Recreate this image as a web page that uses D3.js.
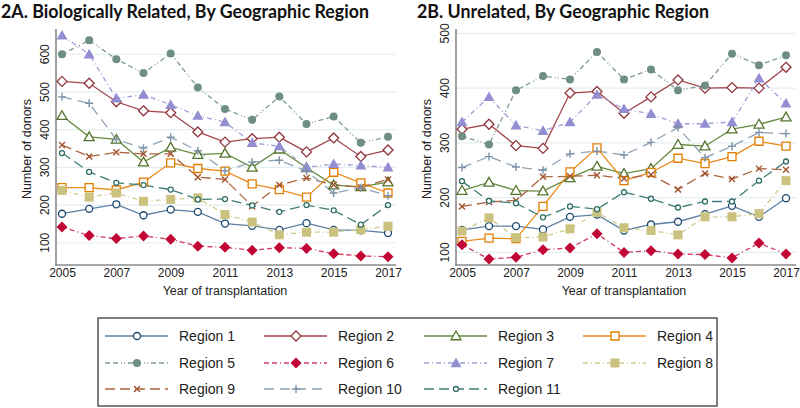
<!DOCTYPE html>
<html><head><meta charset="utf-8">
<script src="https://cdn.jsdelivr.net/npm/d3@7"></script>
<style>body{margin:0;background:#fff}svg{display:block}</style>
</head><body>
<svg id="c" width="800" height="408"></svg>
<script>
const years = [2005,2006,2007,2008,2009,2010,2011,2012,2013,2014,2015,2016,2017];
const xTickYears = [2005,2007,2009,2011,2013,2015,2017];
const yTicksRelated = [100,200,300,400,500,600];
const yTicksUnrelated = [100,200,300,400,500];
const regionNames = ["Region 1","Region 2","Region 3","Region 4","Region 5","Region 6","Region 7","Region 8","Region 9","Region 10","Region 11"];

// 2A. Biologically related donors
const related1  = [177,190,202,173,188,182,151,145,134,152,134,133,126];
const related2  = [528,523,474,450,445,394,367,376,380,341,378,329,346];
const related3  = [437,381,374,314,353,334,337,300,348,299,253,248,261];
const related4  = [246,246,240,261,312,297,290,256,241,221,287,259,232];
const related5  = [600,637,587,550,602,512,455,426,488,415,435,365,381];
const related6  = [142,119,111,118,109,91,88,80,87,85,71,65,63];
const related7  = [650,600,483,493,466,437,420,365,356,300,309,305,300];
const related8  = [239,221,232,210,215,219,175,155,121,128,128,135,144];
const related9  = [359,329,340,336,336,274,268,197,253,272,254,247,268];
const related10 = [487,470,374,351,380,344,291,314,319,290,232,246,225];
const related11 = [338,288,259,253,241,215,216,199,182,200,186,148,200];

// 2B. Unrelated donors
const unrelated1  = [141,148,148,142,165,169,140,151,156,170,185,165,199];
const unrelated2  = [325,334,295,290,391,394,354,384,415,400,401,400,438];
const unrelated3  = [213,228,213,212,236,257,244,253,297,294,325,334,347];
const unrelated4  = [120,126,125,184,247,291,231,246,272,262,275,303,294];
const unrelated5  = [312,297,396,422,416,466,416,434,396,405,463,442,460];
const unrelated6  = [114,88,91,105,108,134,100,103,97,96,90,117,97];
const unrelated7  = [338,384,332,322,338,388,362,353,335,335,338,418,372];
const unrelated8  = [139,163,127,128,143,173,145,140,132,165,165,171,231];
const unrelated9  = [184,192,195,238,239,241,235,242,215,244,234,253,251];
const unrelated10 = [255,275,256,250,280,285,278,301,328,273,294,319,317];
const unrelated11 = [230,194,190,164,184,179,210,198,182,193,193,231,266];

const relatedSeries = [related1,related2,related3,related4,related5,related6,related7,related8,related9,related10,related11];
const unrelatedSeries = [unrelated1,unrelated2,unrelated3,unrelated4,unrelated5,unrelated6,unrelated7,unrelated8,unrelated9,unrelated10,unrelated11];

// styles (Stata s2color palette)
const styles = [
  {mk:"#1a476f", ln:"#5b7fa3", dash:null,               shape:"circle",   fill:false, s:3.5},
  {mk:"#90353b", ln:"#a2454c", dash:null,               shape:"diamond",  fill:false, s:5},
  {mk:"#55752f", ln:"#668a3e", dash:null,               shape:"triangle", fill:false, s:5},
  {mk:"#e37e00", ln:"#ea8a1a", dash:null,               shape:"square",   fill:false, s:4},
  {mk:"#6e8e84", ln:"#7e9c92", dash:"5,3,5,3,1,2,1,3",  shape:"circle",   fill:true,  s:4},
  {mk:"#c10534", ln:"#d33a5e", dash:"5,3,5,3,1,3",      shape:"diamond",  fill:true,  s:5.5},
  {mk:"#938dd2", ln:"#a29dd8", dash:"5,3,1,3",          shape:"triangle", fill:true,  s:5.5},
  {mk:"#cac27e", ln:"#d2cb90", dash:"5,3,1,3",          shape:"square",   fill:true,  s:4.5},
  {mk:"#a0522d", ln:"#ad6440", dash:"10,5",             shape:"x",        fill:false, s:3},
  {mk:"#7b92a8", ln:"#8ea2b5", dash:"10,6",             shape:"plus",     fill:false, s:4},
  {mk:"#2d6d66", ln:"#3f7c75", dash:"10,5",             shape:"circle",   fill:false, s:2.5}
];

function markerPath(shape, s){
  switch(shape){
    case "circle": return `M${s},0A${s},${s},0,1,1,${-s},0A${s},${s},0,1,1,${s},0Z`;
    case "diamond": return `M0,${-s}L${s},0L0,${s}L${-s},0Z`;
    case "triangle": return `M0,${-s}L${s*1.0},${s*0.75}L${-s*1.0},${s*0.75}Z`;
    case "square": return `M${-s},${-s}L${s},${-s}L${s},${s}L${-s},${s}Z`;
    case "x": return `M${-s},${-s}L${s},${s}M${-s},${s}L${s},${-s}`;
    case "plus": return `M${-s},0L${s},0M0,${-s}L0,${s}`;
  }
}
function drawMarker(g, st, x, y){
  const stroke = st.shape==="x"||st.shape==="plus";
  g.append("path").attr("d", markerPath(st.shape, st.s))
    .attr("transform", `translate(${x},${y})`)
    .attr("fill", stroke ? "none" : (st.fill ? st.mk : "#fff"))
    .attr("stroke", st.fill ? "none" : st.mk)
    .attr("stroke-width", stroke ? 1.4 : 1.3);
}

const svg = d3.select("#c");
const FONT = "'Liberation Sans', Arial, sans-serif";

function panel(opts){
  const {x0, x1, xs, xe, yTop, yBot, domain, ticks, series, title, titleX, titleLen} = opts;
  const x = d3.scaleLinear().domain([2005,2017]).range([xs, xe]);
  const y = d3.scaleLinear().domain(domain).range([yBot, yTop]);
  const g = svg.append("g");
  g.append("text").attr("x", titleX).attr("y", 18)
    .attr("font-family","Lato, 'Open Sans', sans-serif").attr("font-weight","bold")
    .attr("font-size",18).attr("fill","#111")
    .attr("textLength", titleLen).attr("lengthAdjust","spacingAndGlyphs")
    .text(title);
  g.selectAll(".grid").data(ticks).enter().append("line")
    .attr("x1", x0).attr("x2", x1).attr("y1", d=>y(d)).attr("y2", d=>y(d))
    .attr("stroke","#e3eef0").attr("stroke-width",1.2);
  ticks.forEach(t=>{
    g.append("text").attr("transform",`translate(${x0-7},${y(t)}) rotate(-90)`)
      .attr("text-anchor","middle").attr("font-family",FONT).attr("font-size",12).attr("fill","#222")
      .text(t);
  });
  const xa = g.append("g").attr("transform",`translate(0,${yBot})`)
    .call(d3.axisBottom(x).tickValues(xTickYears).tickSize(0).tickPadding(0).tickFormat(d3.format("d")));
  xa.select(".domain").remove();
  xa.selectAll("text").attr("font-family",FONT).attr("font-size",12).attr("fill","#222").attr("dy","0").attr("y",12);
  g.append("line").attr("x1",x0).attr("x2",x0).attr("y1",yTop).attr("y2",yBot+1).attr("stroke","#8a8a8a").attr("stroke-width",1.6);
  g.append("line").attr("x1",x0).attr("x2",x1).attr("y1",yBot).attr("y2",yBot).attr("stroke","#8a8a8a").attr("stroke-width",1.6);
  g.append("text").attr("x",(x(2005)+x(2017))/2).attr("y",yBot+30).attr("text-anchor","middle")
    .attr("font-family",FONT).attr("font-size",12.5).attr("fill","#222").text("Year of transplantation");
  g.append("text").attr("transform",`translate(${x0-25},${(yTop+yBot)/2+2}) rotate(-90)`)
    .attr("text-anchor","middle").attr("font-family",FONT).attr("font-size",12.5).attr("fill","#222").text("Number of donors");
  const line = d3.line().x((d,i)=>x(years[i])).y(d=>y(d));
  series.forEach((vals,k)=>{
    const st = styles[k];
    g.append("path").attr("d", line(vals)).attr("fill","none")
      .attr("stroke", st.ln).attr("stroke-width",1.3)
      .attr("stroke-dasharray", st.dash);
  });
  series.forEach((vals,k)=>{
    const st = styles[k];
    vals.forEach((v,i)=>drawMarker(g, st, x(years[i]), y(v)));
  });
}

panel({x0:56, x1:396, xs:62, xe:388, yTop:29, yBot:265, domain:[41,667], ticks:yTicksRelated,
  series:relatedSeries, title:"2A. Biologically Related, By Geographic Region", titleX:1, titleLen:368});
panel({x0:456, x1:796, xs:462, xe:786, yTop:29, yBot:265, domain:[77,508], ticks:yTicksUnrelated,
  series:unrelatedSeries, title:"2B. Unrelated, By Geographic Region", titleX:417, titleLen:292});

const lg = svg.append("g");
lg.append("rect").attr("x",98).attr("y",318).attr("width",619).attr("height",88)
  .attr("fill","#fff").attr("stroke","#555").attr("stroke-width",1.5);
const colX = [105,264,424,583];
const rowY = [336,363,389];
regionNames.forEach((name,k)=>{
  const cx = colX[k%4], cy = rowY[Math.floor(k/4)];
  const st = styles[k];
  lg.append("line").attr("x1",cx).attr("x2",cx+63).attr("y1",cy).attr("y2",cy)
    .attr("stroke",st.ln).attr("stroke-width",1.4).attr("stroke-dasharray",st.dash);
  drawMarker(lg, st, cx+32, cy);
  lg.append("text").attr("x",cx+74).attr("y",cy+5).attr("font-family",FONT).attr("font-size",14).attr("fill","#222").text(name);
});
</script>
</body></html>
